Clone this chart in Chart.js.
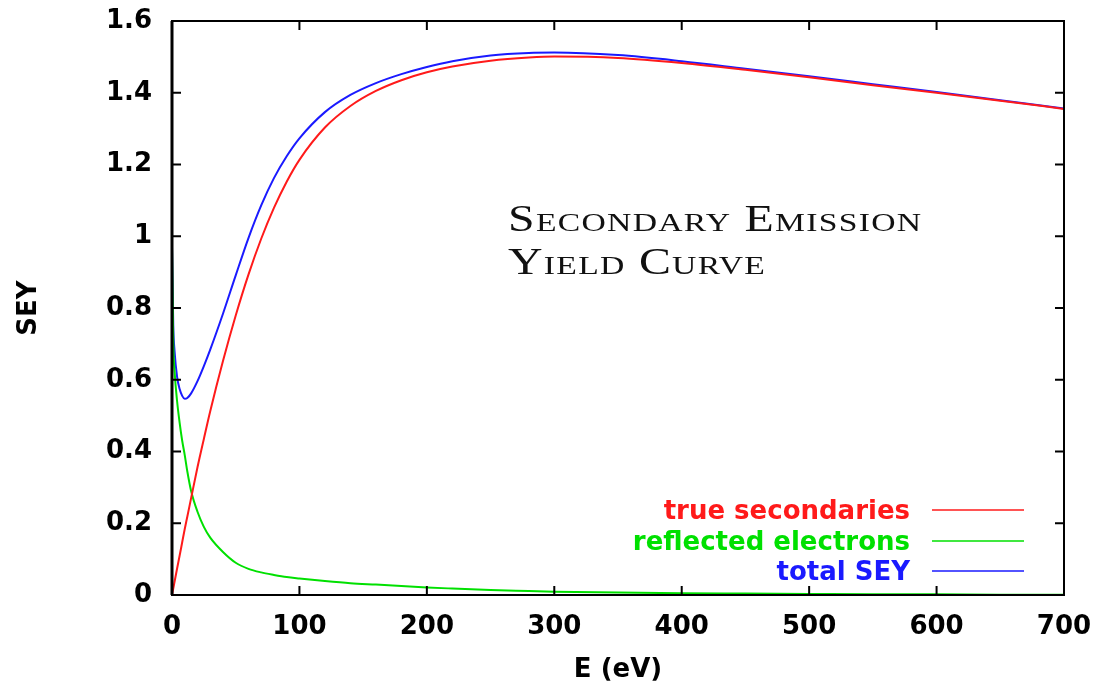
<!DOCTYPE html>
<html>
<head>
<meta charset="utf-8">
<title>Secondary emission yield curve</title>
<script src="https://cdn.jsdelivr.net/npm/chart.js@4.4.1/dist/chart.umd.min.js"></script>
<style>
  html, body { margin: 0; padding: 0; background: #fff; }
  #wrap { position: relative; width: 1101px; height: 691px; }
  #curve-title {
    position: absolute;
    left: 508px;
    top: 197px;
    font-family: "Liberation Serif", serif;
    font-size: 37px;
    font-variant: small-caps;
    letter-spacing: 1px;
    line-height: 43px;
    color: #111;
    white-space: nowrap;
    transform-origin: 0 0;
  }
  #curve-title div { display: inline-block; }
</style>
</head>
<body>
<div id="wrap">
  <canvas id="seyChart" width="1101" height="691"></canvas>
  <div id="curve-title"><div id="t1">Secondary Emission</div><br><div id="t2">Yield Curve</div></div>
</div>
<script>
// ----------------------
// DATA
// ----------------------
const energy = [0, 1, 2, 4, 6, 8, 10, 12, 15, 20, 25, 30, 40, 50, 60, 70, 80, 90, 100,
  120, 140, 160, 180, 200, 220, 250, 280, 300, 350, 400, 450, 500, 550, 600, 650, 700];

const trueSecondaries = [0, 0.018, 0.037, 0.074, 0.11, 0.147, 0.184, 0.218, 0.27, 0.356,
  0.435, 0.512, 0.652, 0.779, 0.893, 0.993, 1.079, 1.152, 1.213,
  1.303, 1.363, 1.405, 1.435, 1.457, 1.473, 1.489, 1.498, 1.501, 1.497, 1.483, 1.464, 1.443,
  1.421, 1.40, 1.378, 1.355];

const reflectedElectrons = [0.97, 0.70, 0.625, 0.54, 0.48, 0.43, 0.39, 0.345, 0.29, 0.232,
  0.19, 0.16, 0.12, 0.09, 0.073, 0.063, 0.056, 0.05, 0.046,
  0.039, 0.033, 0.029, 0.025, 0.021, 0.018, 0.014, 0.011, 0.009, 0.007, 0.005, 0.004, 0.003,
  0.002, 0.002, 0.001, 0.001];

const totalSEY = [0.97, 0.75, 0.68, 0.608, 0.574, 0.555, 0.547, 0.549, 0.562, 0.596,
  0.638, 0.684, 0.784, 0.891, 0.995, 1.086, 1.162, 1.223, 1.273,
  1.346, 1.394, 1.427, 1.452, 1.472, 1.488, 1.504, 1.511, 1.512, 1.505, 1.488, 1.467, 1.446,
  1.424, 1.402, 1.379, 1.356];

const seriesLabels = ["true secondaries", "reflected electrons", "total SEY"];
const seriesColors = ["#ff1a1a", "#00e000", "#1a1aff"];

const xTickLabels = ["0", "100", "200", "300", "400", "500", "600", "700"];
const yTickLabels = ["0", "0.2", "0.4", "0.6", "0.8", "1", "1.2", "1.4", "1.6"];

// ----------------------
// HELPERS
// ----------------------
const toPoints = (values) => values.map((v, i) => ({ x: energy[i], y: v }));
const FONT = "'DejaVu Sans', sans-serif";
const textFont = { family: FONT, size: 26, weight: "bold" };

// gnuplot-like frame: full box, inward ticks mirrored on all sides, key inside
const gnuplotFrame = {
  id: "gnuplotFrame",
  afterDatasetsDraw(chart) {
    const { ctx, chartArea: a, scales } = chart;
    const tick = 9;
    ctx.save();
    ctx.strokeStyle = "#000";
    ctx.lineWidth = 2;
    ctx.strokeRect(a.left, a.top, a.right - a.left, a.bottom - a.top);
    ctx.lineWidth = 3;
    ctx.beginPath();
    ctx.moveTo(a.left, a.top);
    ctx.lineTo(a.left, a.bottom);
    ctx.stroke();

    ctx.lineWidth = 2;
    ctx.beginPath();
    scales.x.ticks.forEach((t) => {
      const px = scales.x.getPixelForValue(t.value);
      ctx.moveTo(px, a.bottom); ctx.lineTo(px, a.bottom - tick);
      ctx.moveTo(px, a.top); ctx.lineTo(px, a.top + tick);
    });
    scales.y.ticks.forEach((t) => {
      const py = scales.y.getPixelForValue(t.value);
      ctx.moveTo(a.left, py); ctx.lineTo(a.left + tick, py);
      ctx.moveTo(a.right, py); ctx.lineTo(a.right - tick, py);
    });
    ctx.stroke();

    // key
    ctx.font = "bold 26px " + FONT;
    ctx.textAlign = "right";
    ctx.textBaseline = "middle";
    const rows = [512, 543, 573];
    chart.data.datasets.forEach((ds, i) => {
      ctx.fillStyle = ds.borderColor;
      ctx.fillText(ds.label, 910, rows[i]);
      ctx.strokeStyle = ds.borderColor;
      ctx.lineWidth = 1.5;
      ctx.beginPath();
      ctx.moveTo(932, rows[i] - 2);
      ctx.lineTo(1024, rows[i] - 2);
      ctx.stroke();
    });
    ctx.restore();
  },
};

// ----------------------
// CHART
// ----------------------
const datasets = [trueSecondaries, reflectedElectrons, totalSEY].map((values, i) => ({
  label: seriesLabels[i],
  data: toPoints(values),
  borderColor: seriesColors[i],
  borderWidth: 2,
  pointRadius: 0,
  cubicInterpolationMode: "monotone",
}));

new Chart(document.getElementById("seyChart"), {
  type: "line",
  data: { datasets },
  plugins: [gnuplotFrame],
  options: {
    responsive: false,
    animation: false,
    layout: { padding: { top: 21, right: 37, bottom: 0, left: 0 } },
    plugins: { legend: { display: false }, tooltip: { enabled: false } },
    scales: {
      x: {
        type: "linear",
        min: 0,
        max: 700,
        grid: { display: false, drawTicks: false },
        border: { display: false },
        ticks: {
          stepSize: 100,
          padding: 17,
          color: "#000",
          font: textFont,
          callback: (v, i) => xTickLabels[i],
        },
        title: {
          display: true,
          text: "E (eV)",
          color: "#000",
          font: textFont,
          padding: { top: 4, bottom: 5 },
        },
        // fixed box; label overflow is covered by the layout padding
        afterFit: (s) => { s.height = 96; s.paddingLeft = 0; s.paddingRight = 0; },
      },
      y: {
        min: 0,
        max: 1.6,
        grid: { display: false, drawTicks: false },
        border: { display: false },
        ticks: {
          stepSize: 0.2,
          padding: 20,
          color: "#000",
          font: textFont,
          callback: (v, i) => yTickLabels[i],
        },
        title: {
          display: true,
          text: "SEY",
          color: "#000",
          font: textFont,
          padding: { top: 14, bottom: 14 },
        },
        afterFit: (s) => { s.width = 172; s.paddingTop = 0; s.paddingBottom = 0; },
      },
    },
  },
});

// stretch the serif caption to the reference width
const cap = document.getElementById("curve-title");
const w1 = document.getElementById("t1").offsetWidth;
cap.style.transform = "scaleX(" + (414 / w1) + ")";
</script>
</body>
</html>
